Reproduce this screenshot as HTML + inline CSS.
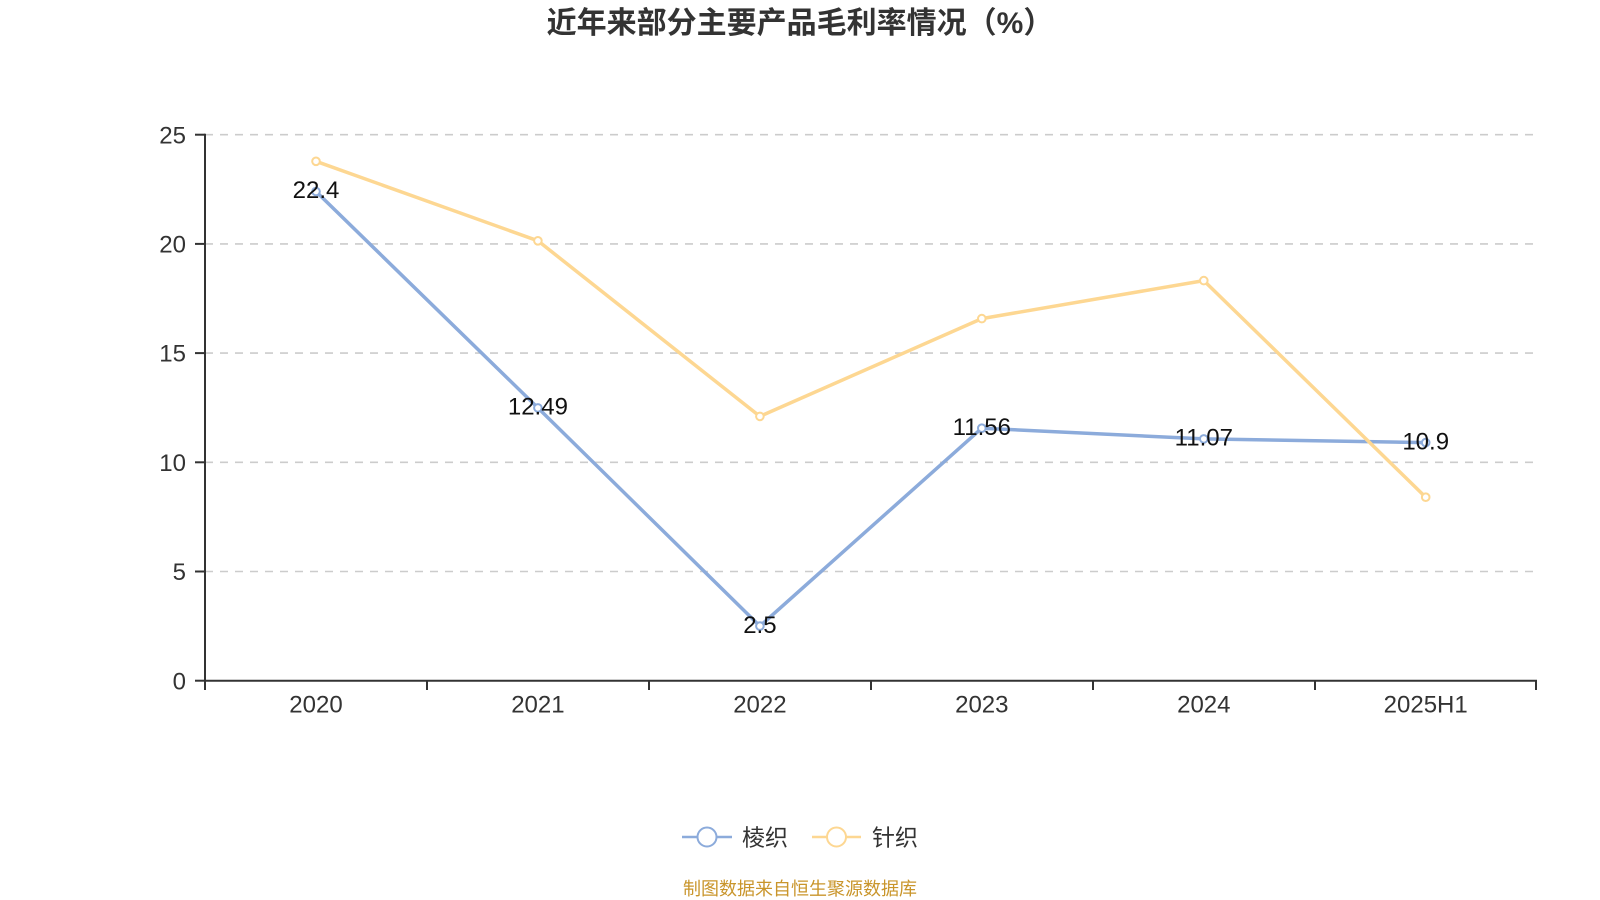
<!DOCTYPE html>
<html>
<head>
<meta charset="utf-8">
<style>
  html, body { margin:0; padding:0; background:#ffffff; }
  body { width:1600px; height:900px; overflow:hidden; }
  svg { display:block; }
  .cjk { font-family: "Liberation Sans", "Noto Sans CJK SC", sans-serif; }
  .num { font-family: "Liberation Sans", sans-serif; }
</style>
</head>
<body>
<svg width="1600" height="900" viewBox="0 0 1600 900" xmlns="http://www.w3.org/2000/svg">
  <!-- Title -->
  <text x="800" y="33" text-anchor="middle" class="cjk" font-size="30" font-weight="bold" fill="#333333">近年来部分主要产品毛利率情况（%）</text>

  <!-- Grid lines -->
  <g stroke="#cccccc" stroke-width="1.6" stroke-dasharray="8 7" fill="none">
    <line x1="205" y1="134.7" x2="1537" y2="134.7"/>
    <line x1="205" y1="243.9" x2="1537" y2="243.9"/>
    <line x1="205" y1="353.1" x2="1537" y2="353.1"/>
    <line x1="205" y1="462.3" x2="1537" y2="462.3"/>
    <line x1="205" y1="571.5" x2="1537" y2="571.5"/>
  </g>

  <!-- Axes -->
  <g stroke="#333333" stroke-width="2" fill="none">
    <line x1="205" y1="133.7" x2="205" y2="681"/>
    <line x1="204" y1="680.7" x2="1537" y2="680.7"/>
    <!-- y ticks -->
    <line x1="195" y1="134.7" x2="205" y2="134.7"/>
    <line x1="195" y1="243.9" x2="205" y2="243.9"/>
    <line x1="195" y1="353.1" x2="205" y2="353.1"/>
    <line x1="195" y1="462.3" x2="205" y2="462.3"/>
    <line x1="195" y1="571.5" x2="205" y2="571.5"/>
    <line x1="195" y1="680.7" x2="205" y2="680.7"/>
    <!-- x ticks -->
    <line x1="205" y1="680.7" x2="205" y2="690"/>
    <line x1="427" y1="680.7" x2="427" y2="690"/>
    <line x1="649" y1="680.7" x2="649" y2="690"/>
    <line x1="871" y1="680.7" x2="871" y2="690"/>
    <line x1="1093" y1="680.7" x2="1093" y2="690"/>
    <line x1="1315" y1="680.7" x2="1315" y2="690"/>
    <line x1="1536" y1="680.7" x2="1536" y2="690"/>
  </g>

  <!-- Y labels -->
  <g class="num" font-size="24" fill="#333333" text-anchor="end">
    <text x="186" y="143.3">25</text>
    <text x="186" y="252.5">20</text>
    <text x="186" y="361.7">15</text>
    <text x="186" y="470.9">10</text>
    <text x="186" y="580.1">5</text>
    <text x="186" y="689.3">0</text>
  </g>

  <!-- X labels -->
  <g class="num" font-size="24" fill="#333333" text-anchor="middle">
    <text x="316" y="712.5">2020</text>
    <text x="537.9" y="712.5">2021</text>
    <text x="759.9" y="712.5">2022</text>
    <text x="981.8" y="712.5">2023</text>
    <text x="1203.8" y="712.5">2024</text>
    <text x="1425.7" y="712.5">2025H1</text>
  </g>

  <!-- Blue series -->
  <polyline fill="none" stroke="#8cabdb" stroke-width="3.5" stroke-linejoin="round"
    points="316,191.5 537.9,407.9 759.9,626.1 981.8,428.2 1203.8,438.9 1425.7,442.6"/>
  <!-- Yellow series -->
  <polyline fill="none" stroke="#fdd792" stroke-width="3.5" stroke-linejoin="round"
    points="316,161.3 537.9,240.8 759.9,416.4 981.8,318.6 1203.8,280.6 1425.7,497.2"/>

  <!-- Markers -->
  <g fill="#ffffff" stroke="#8cabdb" stroke-width="2">
    <circle cx="316" cy="191.5" r="3.8"/>
    <circle cx="537.9" cy="407.9" r="3.8"/>
    <circle cx="759.9" cy="626.1" r="3.8"/>
    <circle cx="981.8" cy="428.2" r="3.8"/>
    <circle cx="1203.8" cy="438.9" r="3.8"/>
    <circle cx="1425.7" cy="442.6" r="3.8"/>
  </g>
  <g fill="#ffffff" stroke="#fdd792" stroke-width="2">
    <circle cx="316" cy="161.3" r="3.8"/>
    <circle cx="537.9" cy="240.8" r="3.8"/>
    <circle cx="759.9" cy="416.4" r="3.8"/>
    <circle cx="981.8" cy="318.6" r="3.8"/>
    <circle cx="1203.8" cy="280.6" r="3.8"/>
    <circle cx="1425.7" cy="497.2" r="3.8"/>
  </g>

  <!-- Data labels -->
  <g class="num" font-size="24" fill="#111111" text-anchor="middle">
    <text x="316" y="198.2">22.4</text>
    <text x="537.9" y="414.6">12.49</text>
    <text x="759.9" y="632.8">2.5</text>
    <text x="981.8" y="434.9">11.56</text>
    <text x="1203.8" y="445.6">11.07</text>
    <text x="1425.7" y="449.3">10.9</text>
  </g>

  <!-- Legend -->
  <line x1="682" y1="837" x2="732" y2="837" stroke="#8cabdb" stroke-width="2.5"/>
  <circle cx="707" cy="837" r="9.5" fill="#ffffff" stroke="#8cabdb" stroke-width="2"/>
  <text x="742" y="845.5" class="cjk" font-size="23" fill="#333333">棱织</text>

  <line x1="812" y1="837" x2="861" y2="837" stroke="#fdd792" stroke-width="2.5"/>
  <circle cx="836.5" cy="837" r="9.5" fill="#ffffff" stroke="#fdd792" stroke-width="2"/>
  <text x="872" y="845.5" class="cjk" font-size="23" fill="#333333">针织</text>

  <!-- Source -->
  <text x="800" y="895" text-anchor="middle" class="cjk" font-size="18" fill="#c9952b">制图数据来自恒生聚源数据库</text>
</svg>
</body>
</html>
